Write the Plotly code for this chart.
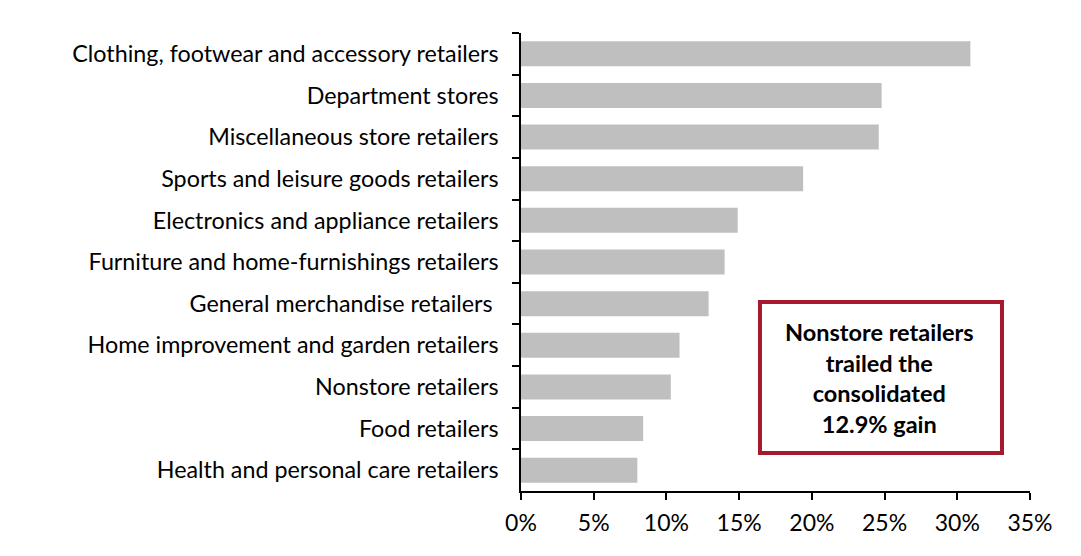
import plotly.graph_objects as go

categories = [
    "Clothing, footwear and accessory retailers",
    "Department stores",
    "Miscellaneous store retailers",
    "Sports and leisure goods retailers",
    "Electronics and appliance retailers",
    "Furniture and home-furnishings retailers",
    "General merchandise retailers ",
    "Home improvement and garden retailers",
    "Nonstore retailers",
    "Food retailers",
    "Health and personal care retailers",
]
values = [30.9, 24.8, 24.6, 19.4, 14.9, 14.0, 12.9, 10.9, 10.3, 8.4, 8.0]
x_ticks = [0, 5, 10, 15, 20, 25, 30, 35]
x_tick_labels = [f"{t}%" for t in x_ticks]
note_text = "Nonstore retailers<br>trailed the<br>consolidated<br>12.9% gain"

FONT = "Lato, Carlito, Calibri, 'Open Sans', sans-serif"

fig = go.Figure(go.Bar(
    x=values, y=categories, orientation="h",
    marker=dict(color="#BFBFBF", line=dict(width=0)),
    width=0.6, hoverinfo="x+y",
))

fig.update_layout(
    width=1081, height=556,
    margin=dict(l=521, r=51, t=33, b=65),
    paper_bgcolor="white", plot_bgcolor="white",
    font=dict(family=FONT, size=23, color="black"),
    showlegend=False,
    xaxis=dict(
        range=[0, 35], tickvals=x_ticks, ticktext=x_tick_labels,
        showgrid=False, zeroline=False,
        showline=True, linecolor="black", linewidth=1.5,
        ticks="outside", ticklen=7, tickwidth=1.5, tickcolor="black",
        ticklabelstandoff=4,
        tickfont=dict(size=23), fixedrange=True,
    ),
    yaxis=dict(
        autorange="reversed", type="category",
        showgrid=False, zeroline=False,
        showline=True, linecolor="black", linewidth=1.5,
        ticks="outside", ticklen=7, tickwidth=1.5, tickcolor="black",
        tickson="boundaries", ticklabelstandoff=16,
        tickfont=dict(size=23.3), fixedrange=True,
    ),
)

fig.add_shape(
    type="rect", xref="paper", yref="paper",
    x0=0.4695, x1=0.945, y0=0.083, y1=0.4127,
    line=dict(color="#A6192E", width=4), fillcolor="white", layer="above",
)
fig.add_annotation(
    xref="paper", yref="paper", x=0.7053, y=0.2467,
    xanchor="center", yanchor="middle",
    text="<b>" + note_text + "</b>", showarrow=False,
    font=dict(family=FONT, size=23.5, color="black"), align="center",
)

fig.write_html("out.html")
